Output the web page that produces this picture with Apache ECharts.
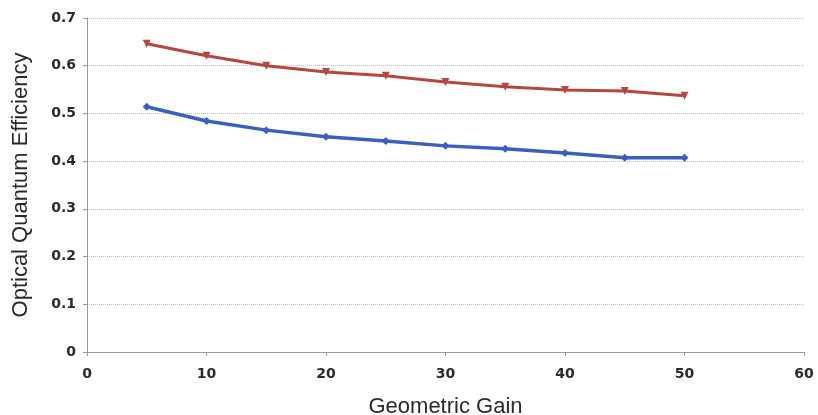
<!DOCTYPE html>
<html><head><meta charset="utf-8">
<script src="https://cdn.jsdelivr.net/npm/echarts@6/dist/echarts.min.js"></script>
<style>html,body{margin:0;padding:0;background:#fff}#c{width:818px;height:415px}</style>
</head><body><div id="c"></div>
<script>
var gains = [5,10,15,20,25,30,35,40,45,50];
var upperSeries = [0.646,0.621,0.600,0.587,0.579,0.566,0.556,0.549,0.547,0.537];
var lowerSeries = [0.514,0.484,0.465,0.451,0.442,0.432,0.426,0.417,0.407,0.407];
function pairs(v){return gains.map(function(g,i){return [g,v[i]];});}
var chart = echarts.init(document.getElementById('c'));
chart.setOption({
  animation:false,
  grid:{left:87,right:14,top:18,bottom:63,containLabel:false,outerBoundsMode:'none'},
  xAxis:{type:'value',min:0,max:60,interval:10,
    name:'Geometric Gain',nameLocation:'middle',nameGap:44,
    nameTextStyle:{fontFamily:'Liberation Sans',fontSize:22,color:'#2a2a2a'},
    axisLine:{lineStyle:{color:'#999'}},axisTick:{show:true,length:4,lineStyle:{color:'#999'}},
    axisLabel:{fontFamily:'DejaVu Sans',fontWeight:'bold',fontSize:14,color:'#2a2a2a',margin:15},
    splitLine:{show:false}},
  yAxis:{type:'value',min:0,max:0.7,interval:0.1,
    name:'Optical Quantum Efficiency',nameLocation:'middle',nameGap:55,
    nameTextStyle:{fontFamily:'Liberation Sans',fontSize:22,color:'#2a2a2a'},
    axisLine:{show:true,lineStyle:{color:'#999'}},axisTick:{show:true,length:4,lineStyle:{color:'#999'}},
    axisLabel:{fontFamily:'DejaVu Sans',fontWeight:'bold',fontSize:14,color:'#2a2a2a',margin:11,
      formatter:function(v){return v===0?'0':v.toFixed(1);}},
    splitLine:{show:true,lineStyle:{color:'#bbb',type:'dotted',width:1}}},
  series:[
    {type:'line',data:pairs(upperSeries),symbol:'triangle',symbolRotate:180,symbolSize:8,
      lineStyle:{color:'#b5473e',width:3},itemStyle:{color:'#b5473e'}},
    {type:'line',data:pairs(lowerSeries),symbol:'diamond',symbolSize:8,
      lineStyle:{color:'#3a5fc2',width:3.5},itemStyle:{color:'#3a5fc2'}}
  ]
});
</script></body></html>
